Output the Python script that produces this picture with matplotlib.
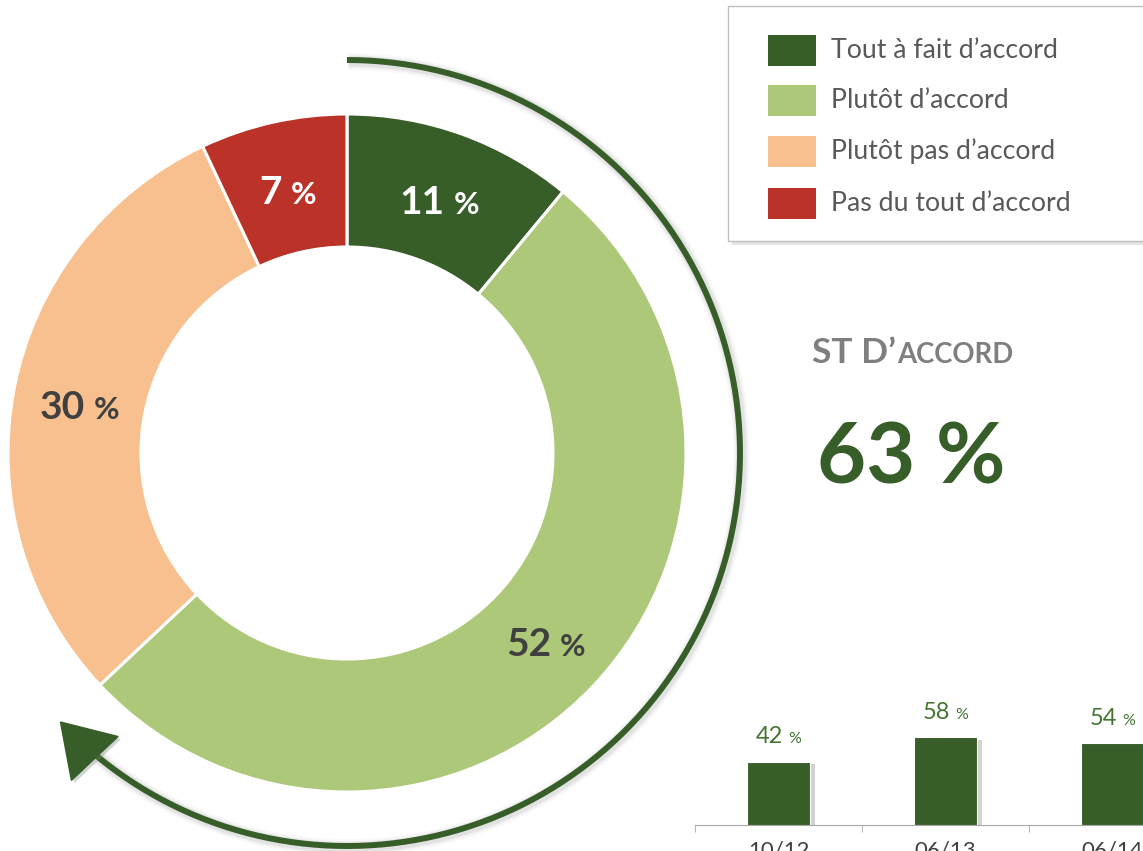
import matplotlib
matplotlib.use('Agg')
import matplotlib.pyplot as plt
import numpy as np
from matplotlib.patches import Rectangle, Polygon
import matplotlib.patheffects as pe

# ---------------- data ----------------
categories = ["Tout à fait d’accord", "Plutôt d’accord", "Plutôt pas d’accord", "Pas du tout d’accord"]
shares = [11, 52, 30, 7]
colors = ["#375E29", "#AEC87A", "#F9C08F", "#BA3228"]
label_colors = ["white", "#404040", "#404040", "white"]
st_label_big = "ST D’"
st_label_small = "ACCORD"
st_value = 63
periods = ["10/12", "06/13", "06/14"]
trend = [42, 58, 54]

plt.rcParams['font.family'] = ['Lato', 'DejaVu Sans']

W, H = 1143, 851
DARK = "#375E29"
fig = plt.figure(figsize=(W / 100, H / 100), dpi=100)
ax = fig.add_axes([0, 0, 1, 1])

cx, cy = 347, H - 453
R, ring = 339, 133
wedges, _ = ax.pie(shares, colors=colors, startangle=90, counterclock=False,
                   radius=R, center=(cx, cy),
                   wedgeprops=dict(width=ring, edgecolor='white', linewidth=2.2))
ax.set_xlim(0, W)
ax.set_ylim(0, H)
ax.set_aspect('auto')
ax.axis('off')

renderer = fig.canvas.get_renderer()


def text_width(s, size, weight):
    t = ax.text(0, 0, s, fontsize=size, fontweight=weight)
    w = t.get_window_extent(renderer).width
    t.remove()
    return w


def pct_label(x, y, num, size, color, weight, ratio, gap_em=0.22):
    s2 = size * ratio
    w1 = text_width(num, size, weight)
    w2 = text_width('%', s2, weight)
    gap = gap_em * size * 100 / 72
    total = w1 + gap + w2
    x0 = x - total / 2
    base = y - 0.5 * size * 100 / 72 * 0.7165
    ax.text(x0, base, num, fontsize=size, fontweight=weight, color=color,
            ha='left', va='baseline', zorder=10)
    ax.text(x0 + w1 + gap, base, '%', fontsize=s2, fontweight=weight, color=color,
            ha='left', va='baseline', zorder=10)


# donut labels at mid-ring
rmid = R - ring / 2
for w, v, c in zip(wedges, shares, label_colors):
    th = np.deg2rad((w.theta1 + w.theta2) / 2)
    pct_label(cx + rmid * np.cos(th), cy + rmid * np.sin(th) - 3, str(v), 28, c, 'bold', 0.8)

# circular arrow covering the "ST d'accord" share
Ra = 393
theta_end = 90 - 3.6 * st_value
L_head, W_head = 50, 64
theta_base = theta_end + np.rad2deg(L_head / Ra)
tt = np.linspace(90, theta_base, 400)
xs = cx + Ra * np.cos(np.deg2rad(tt))
ys = cy + Ra * np.sin(np.deg2rad(tt))
for lw, a in [(12, 0.05), (9, 0.08), (7, 0.1)]:
    ax.plot(xs + 1.5, ys - 1.5, color='gray', lw=lw, alpha=a, solid_capstyle='butt', zorder=3)
ax.plot(xs, ys, color=DARK, lw=4.3, solid_capstyle='butt', zorder=4)
te = np.deg2rad(theta_end)
tip = np.array([cx + Ra * np.cos(te), cy + Ra * np.sin(te)])
tang = np.array([np.sin(te), -np.cos(te)])
norm = np.array([np.cos(te), np.sin(te)])
bmid = tip - L_head * tang
head = Polygon([tip, bmid + norm * W_head / 2, bmid - norm * W_head / 2],
               closed=True, facecolor=DARK, edgecolor=DARK, zorder=4,
               path_effects=[pe.SimplePatchShadow(offset=(2, -2), shadow_rgbFace='gray', alpha=0.35),
                             pe.Normal()])
ax.add_patch(head)

# legend box
lx0, ly0, lx1, ly1 = 728, H - 241, W + 10, H - 6
ax.add_patch(Rectangle((lx0 + 4, ly0 - 4), lx1 - lx0, ly1 - ly0, facecolor='#000000', alpha=0.10,
                       edgecolor='none', zorder=5))
ax.add_patch(Rectangle((lx0, ly0), lx1 - lx0, ly1 - ly0, facecolor='white',
                       edgecolor='#BFBFBF', lw=1, zorder=6))
row_y = [50, 100, 151, 203]
for yy, lab, c in zip(row_y, categories, colors):
    ax.add_patch(Rectangle((768, H - yy - 15.5), 48, 31, facecolor=c, edgecolor='none', zorder=7))
    ax.text(831, H - yy + 2, lab, fontsize=19.2, color='#595959', ha='left', va='center_baseline', zorder=7)

# ST D'ACCORD
wbig = text_width(st_label_big, 25.5, 'bold')
ax.text(812, H - 363, st_label_big, fontsize=25.5, fontweight='bold', color='#7F7F7F',
        ha='left', va='baseline')
ax.text(812 + wbig + 1, H - 363, st_label_small, fontsize=19.8, fontweight='bold', color='#7F7F7F',
        ha='left', va='baseline')
ax.text(911, H - 483, f"{st_value} %", fontsize=61, fontweight='bold', color=DARK,
        ha='center', va='baseline')

# small bar chart
slot = 167
bx = fig.add_axes([695 / W, (H - 825) / H, 3 * slot / W, 151 / H])
bars = bx.bar(range(len(trend)), trend, width=0.383, color=DARK, edgecolor='white', linewidth=0.8,
              zorder=3)
for b in bars:
    b.set_path_effects([pe.SimplePatchShadow(offset=(3, -2), shadow_rgbFace='gray', alpha=0.35),
                        pe.Normal()])
bx.set_xlim(-0.5, 2.5)
bx.set_ylim(0, 100)
bx.patch.set_alpha(0)
for s in ['top', 'right', 'left']:
    bx.spines[s].set_visible(False)
bx.spines['bottom'].set_color('#A6A6A6')
bx.set_yticks([])
bx.set_xticks(range(len(periods)))
bx.set_xticklabels(periods, fontsize=16, color='#404040')
bx.tick_params(axis='x', which='major', length=0, pad=11)
bx.set_xticks([-0.5, 0.5, 1.5, 2.5], minor=True)
bx.tick_params(axis='x', which='minor', length=5, color='#A6A6A6', direction='out')

for i, v in enumerate(trend):
    px, py = bx.transData.transform((i, v))
    pct_label(px, py + 27, str(v), 17, '#467533', 'normal', 0.68, gap_em=0.2)

fig.savefig('out.png', dpi=100)
